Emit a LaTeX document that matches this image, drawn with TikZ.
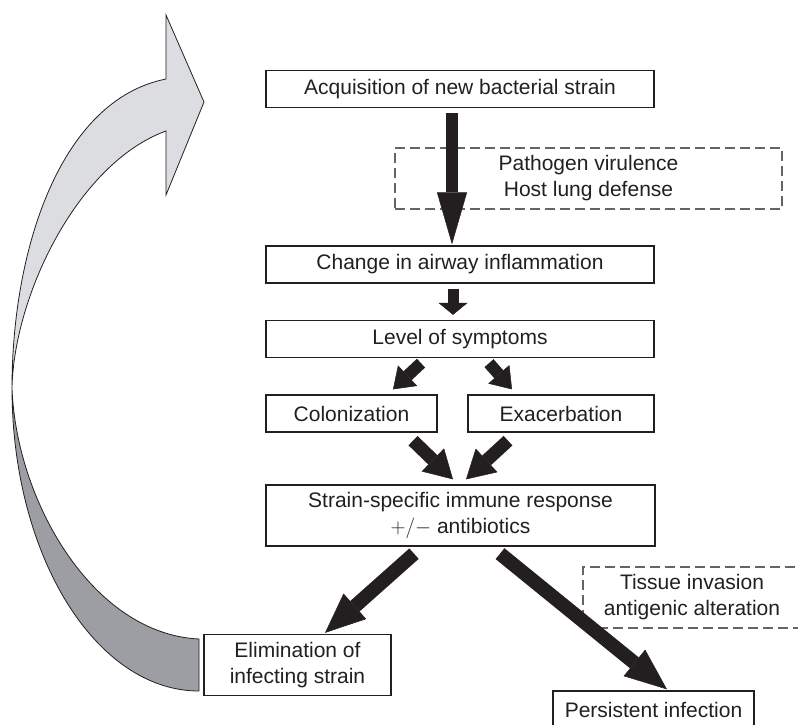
\documentclass[tikz,border=0pt]{standalone}
\usepackage{fontspec}
\setmainfont{Liberation Sans}
\usetikzlibrary{arrows.meta}

\definecolor{ribbonlight}{RGB}{220,221,224}
\definecolor{ribbondark}{RGB}{156,158,163}
\definecolor{dashgray}{RGB}{100,100,100}
\definecolor{inkblack}{RGB}{35,31,32}

\begin{document}
\begin{tikzpicture}[x=1pt, y=-1pt,
    font=\fontsize{21}{26}\selectfont,
    box/.style={draw=inkblack, line width=1.3pt, inner sep=0pt, align=center, minimum height=37pt, text=inkblack},
    tallbox/.style={box, minimum height=61pt},
    dashbox/.style={draw=dashgray, line width=1.1pt, dash pattern=on 10pt off 5pt, inner sep=0pt, align=center, minimum height=61pt, text=inkblack},
    fatarrow/.style n args={3}{draw=inkblack, line width=#1, -{Triangle[length=#2, width=#3, line width=0.5pt]}}]
    \useasboundingbox (0,0) rectangle (798,724);
    \clip (0,0) rectangle (798,724);
    % This draws the big curved arrow, light half first, then the dark half.
        \coordinate (twist) at (12,388);
        \filldraw[fill=ribbonlight, draw=inkblack, line width=0.8pt]
            (twist) .. controls (12,250) and (60,100) .. (166,79)
            -- (166,15) -- (204,102) -- (166,195) -- (166,131)
            .. controls (78,163) and (14,295) .. (twist) -- cycle;
        \filldraw[fill=ribbondark, draw=inkblack, line width=0.8pt]
            (twist) .. controls (12,556) and (96,691) .. (199,691)
            -- (199,639) .. controls (92,634) and (16,500) .. (twist) -- cycle;
    % Below nodes are the boxes.
        \node[box, minimum width=388pt] (acq) at (460,89) {Acquisition of new bacterial strain};
        \node[dashbox, minimum width=387pt] (virul) at (588.5,178.5) {Pathogen virulence\\Host lung defense};
        \node[box, minimum width=388pt] (infl) at (460,264.5) {Change in airway inflammation};
        \node[box, minimum width=388pt] (symp) at (460,339) {Level of symptoms};
        \node[box, minimum width=171pt] (colon) at (351.5,413.5) {Colonization};
        \node[box, minimum width=186pt] (exac) at (561,413.5) {Exacerbation};
        \node[tallbox, minimum width=389pt] (immune) at (460.5,515.5) {Strain-specific immune response\\$+/-$ antibiotics};
        \node[dashbox, minimum width=218pt] (invas) at (692,597.5) {Tissue invasion\\antigenic alteration};
        \node[tallbox, minimum width=187pt] (elim) at (297.5,665) {Elimination of\\infecting strain};
        \node[box, minimum width=201pt] (persist) at (653.5,709.5) {Persistent infection};
    % Below are the black arrows.
        \draw[fatarrow={12pt}{52pt}{30pt}] ([xshift=-8pt,yshift=-5pt]acq.south) -- ([xshift=-8pt,yshift=1pt]infl.north);
        \draw[fatarrow={11pt}{12pt}{29pt}] ([xshift=-7pt,yshift=-5pt]infl.south) -- ([xshift=-7pt,yshift=5pt]symp.north);
        \draw[fatarrow={12pt}{20pt}{28pt}] ([xshift=-39pt,yshift=-5pt]symp.south) -- ([xshift=41.5pt,yshift=5pt]colon.north);
        \draw[fatarrow={12pt}{20pt}{28pt}] ([xshift=29pt,yshift=-5pt]symp.south) -- ([xshift=-49pt,yshift=5pt]exac.north);
        \draw[fatarrow={13pt}{28pt}{32pt}] ([xshift=61.5pt,yshift=-8pt]colon.south) -- ([xshift=-7.5pt,yshift=5pt]immune.north);
        \draw[fatarrow={13pt}{28pt}{32pt}] ([xshift=-53pt,yshift=-8pt]exac.south) -- ([xshift=5.5pt,yshift=5pt]immune.north);
        \draw[fatarrow={14pt}{40pt}{34pt}] ([xshift=-46.5pt,yshift=-7pt]immune.south) -- ([xshift=27.5pt,yshift=1pt]elim.north);
        \draw[fatarrow={14pt}{42pt}{34pt}] ([xshift=39.5pt,yshift=-7pt]immune.south) -- ([xshift=13.5pt,yshift=1pt]persist.north);
\end{tikzpicture}
\end{document}
